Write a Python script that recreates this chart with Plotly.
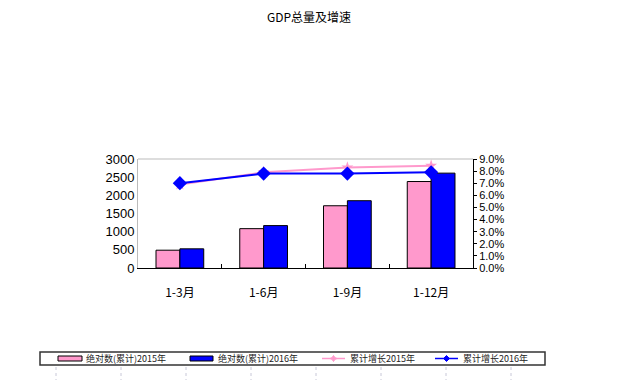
import plotly.graph_objects as go

categories = ["1-3月", "1-6月", "1-9月", "1-12月"]
gdp_2015 = [490, 1083, 1713, 2380]
gdp_2016 = [528, 1167, 1852, 2611]
growth_2015 = [6.9, 7.9, 8.3, 8.45]
growth_2016 = [7.0, 7.8, 7.8, 7.9]
left_ticks = [0, 500, 1000, 1500, 2000, 2500, 3000]
right_ticks = [0, 1, 2, 3, 4, 5, 6, 7, 8, 9]
right_tick_labels = [f"{v:.1f}%" for v in right_ticks]

names = ["绝对数(累计)2015年", "绝对数(累计)2016年", "累计增长2015年", "累计增长2016年"]
cjk = "Noto Sans CJK SC"

# page body has an 8px default margin; compensate so the picture lines up
OFF = 8
W, H = 618 - OFF, 380 - OFF
PL, PR, PT, PB = 138, 473, 159, 268
PW, PH = PR - PL, PB - PT


def px(x):
    return (x - PL) / PW


def py(y):
    return (PB - y) / PH


fig = go.Figure()
fig.add_trace(go.Bar(x=categories, y=gdp_2015, name=names[0],
                     marker=dict(color="#FF99CC", line=dict(color="#000000", width=1))))
fig.add_trace(go.Bar(x=categories, y=gdp_2016, name=names[1],
                     marker=dict(color="#0000FF", line=dict(color="#000000", width=1))))
fig.add_trace(go.Scatter(x=categories, y=growth_2015, name=names[2], yaxis="y2",
                         mode="lines+markers",
                         line=dict(color="#FF99CC", width=2),
                         marker=dict(symbol="star", size=9, color="#FF99CC")))
fig.add_trace(go.Scatter(x=categories, y=growth_2016, name=names[3], yaxis="y2",
                         mode="lines+markers",
                         line=dict(color="#0000FF", width=2),
                         marker=dict(symbol="diamond", size=11, color="#0000FF")))

shapes = []
annotations = []
# faint spreadsheet gridline artifacts below legend
for xp_ in [56, 121, 186, 251, 316, 381, 446, 511]:
    shapes.append(dict(type="line", xref="paper", yref="paper",
                       x0=px(xp_), x1=px(xp_), y0=py(367), y1=py(380),
                       line=dict(color="#C8C8D8", width=1, dash="dot")))
# plot frame (top gray line)
shapes.append(dict(type="line", xref="paper", yref="paper", x0=0, x1=1, y0=1, y1=1,
                   line=dict(color="#BBBBBB", width=1)))

# legend box drawn manually (wide swatches like the reference)
shapes.append(dict(type="rect", xref="paper", yref="paper",
                   x0=px(40), x1=px(545), y0=py(365), y1=py(352),
                   line=dict(color="#333333", width=1.5), fillcolor="white"))
leg_y = 358.5
shapes.append(dict(type="rect", xref="paper", yref="paper",
                   x0=px(58), x1=px(82), y0=py(361), y1=py(356),
                   line=dict(color="#000000", width=1), fillcolor="#FF99CC"))
shapes.append(dict(type="rect", xref="paper", yref="paper",
                   x0=px(190), x1=px(213), y0=py(361), y1=py(356),
                   line=dict(color="#000000", width=1), fillcolor="#0000FF"))
shapes.append(dict(type="line", xref="paper", yref="paper",
                   x0=px(322), x1=px(345), y0=py(leg_y), y1=py(leg_y),
                   line=dict(color="#FF99CC", width=1.5)))
shapes.append(dict(type="line", xref="paper", yref="paper",
                   x0=px(435), x1=px(458), y0=py(leg_y), y1=py(leg_y),
                   line=dict(color="#0000FF", width=1.5)))
shapes.append(dict(type="path", xref="paper", yref="paper",
                   path=f"M {px(333.5)} {py(leg_y-3)} L {px(335)} {py(leg_y-0.8)} L {px(337)} {py(leg_y)} "
                        f"L {px(335)} {py(leg_y+0.8)} L {px(333.5)} {py(leg_y+3)} L {px(332)} {py(leg_y+0.8)} "
                        f"L {px(330)} {py(leg_y)} L {px(332)} {py(leg_y-0.8)} Z",
                   line=dict(color="#FF99CC", width=1), fillcolor="#FF99CC"))
shapes.append(dict(type="path", xref="paper", yref="paper",
                   path=f"M {px(446.5)} {py(leg_y-3)} L {px(449.5)} {py(leg_y)} L {px(446.5)} {py(leg_y+3)} "
                        f"L {px(443.5)} {py(leg_y)} Z",
                   line=dict(color="#0000FF", width=1), fillcolor="#0000FF"))
for tx, name in zip([84, 216, 348, 461], names):
    annotations.append(dict(x=px(tx), y=py(leg_y), xref="paper", yref="paper",
                            xanchor="left", yanchor="middle", showarrow=False,
                            text=name, font=dict(family=cjk, size=9, color="#222222")))

fig.update_layout(
    width=W, height=H,
    paper_bgcolor="white", plot_bgcolor="white",
    margin=dict(l=PL - OFF, r=W - (PR - OFF), t=PT - OFF, b=H - (PB - OFF), autoexpand=False),
    title=dict(text="GDP总量及增速", x=(309 - OFF) / W, xanchor="center",
               y=1 - 10 / H, yanchor="middle",
               font=dict(family=cjk, size=12, color="#000000")),
    barmode="group", bargap=0.43, bargroupgap=0,
    showlegend=False,
    xaxis=dict(type="category", showgrid=False, showline=True, linecolor="#000000",
               linewidth=1, ticks="inside", tickson="boundaries", ticklen=4,
               tickcolor="#000000", ticklabelstandoff=14, automargin=False,
               tickfont=dict(family=cjk, size=12, color="#000000")),
    yaxis=dict(range=[0, 3000], tickvals=left_ticks, showgrid=False, showline=True,
               linecolor="#BBBBBB", linewidth=1, ticks="", zeroline=False, automargin=False,
               tickfont=dict(family="Liberation Sans", size=13, color="#000000")),
    yaxis2=dict(overlaying="y", side="right", range=[0, 9], tickvals=right_ticks,
                ticktext=right_tick_labels, showgrid=False, showline=True,
                linecolor="#000000", linewidth=1, ticks="outside", ticklen=3,
                tickcolor="#000000", zeroline=False, automargin=False,
                tickfont=dict(family="Liberation Sans", size=11, color="#000000")),
    shapes=shapes,
    annotations=annotations,
)

fig.write_html("out.html")
